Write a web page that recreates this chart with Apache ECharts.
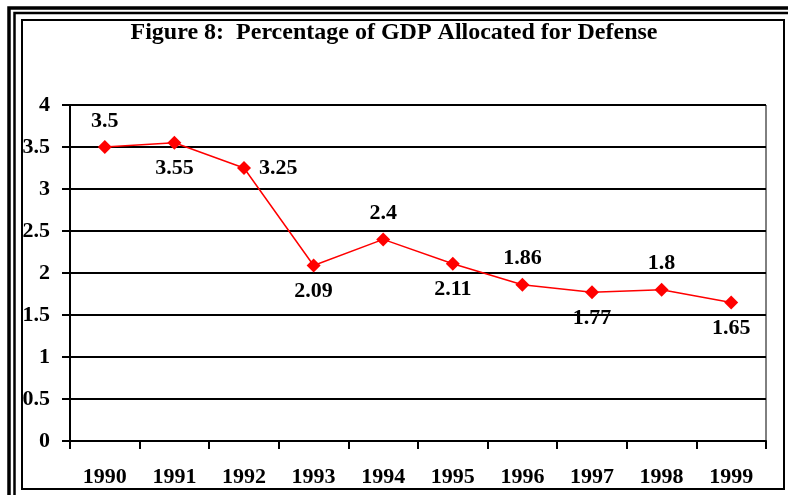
<!DOCTYPE html>
<html>
<head>
<meta charset="utf-8">
<script src="https://cdn.jsdelivr.net/npm/echarts@6/dist/echarts.min.js"></script>
<style>
  html, body { margin: 0; padding: 0; background: #fff; }
  #chart { width: 788px; height: 495px; }
</style>
</head>
<body>
<div id="chart"></div>
<script>
const years = ['1990', '1991', '1992', '1993', '1994', '1995', '1996', '1997', '1998', '1999']
const gdpShare = [3.5, 3.55, 3.25, 2.09, 2.4, 2.11, 1.86, 1.77, 1.8, 1.65]
const labelSide = ['top', 'bottom', 'right', 'bottom', 'top', 'bottom', 'top', 'bottom', 'top', 'bottom']

const serif = '"Liberation Serif", "Times New Roman", serif'

const chart = echarts.init(document.getElementById('chart'), null, { renderer: 'canvas' })

chart.setOption({
  backgroundColor: '#fff',
  animation: false,
  title: {
    text: 'Figure 8:  Percentage of GDP Allocated for Defense',
    left: 'center',
    top: 16,
    textStyle: { fontFamily: serif, fontWeight: 'bold', fontSize: 24, color: '#000' },
  },
  graphic: [
    { type: 'rect', shape: { x: 9, y: 8, width: 800, height: 500 }, style: { fill: 'none', stroke: '#000', lineWidth: 3.5 } },
    { type: 'rect', shape: { x: 14.5, y: 13, width: 790, height: 490 }, style: { fill: 'none', stroke: '#000', lineWidth: 2.5 } },
    { type: 'rect', shape: { x: 22, y: 20, width: 762, height: 469 }, style: { fill: 'none', stroke: '#000', lineWidth: 2 } },
  ],
  grid: {
    left: 70, right: 22, top: 105, bottom: 54,
    show: true, borderColor: '#000', borderWidth: 1,
  },
  xAxis: {
    type: 'category',
    data: years,
    boundaryGap: true,
    axisLine: { lineStyle: { color: '#000', width: 2 } },
    axisTick: { show: true, length: 8, lineStyle: { color: '#000', width: 2 } },
    axisLabel: { color: '#000', fontFamily: serif, fontWeight: 'bold', fontSize: 22, margin: 25 },
  },
  yAxis: {
    type: 'value',
    min: 0, max: 4, interval: 0.5,
    axisLine: { show: true, lineStyle: { color: '#000', width: 2 } },
    axisTick: { show: true, length: 8, lineStyle: { color: '#000', width: 2 } },
    splitLine: { lineStyle: { color: '#000', width: 2 } },
    axisLabel: { color: '#000', fontFamily: serif, fontWeight: 'bold', fontSize: 22, margin: 20 },
  },
  series: [{
    type: 'line',
    data: gdpShare.map((v, i) => ({
      value: v,
      label: { position: labelSide[i] },
    })),
    symbol: 'diamond',
    symbolSize: 14,
    lineStyle: { color: '#ff0000', width: 1.5 },
    itemStyle: { color: '#ff0000' },
    label: {
      show: true,
      distance: 8,
      color: '#000',
      fontFamily: serif,
      fontWeight: 'bold',
      fontSize: 22,
    },
  }],
})
</script>
</body>
</html>
